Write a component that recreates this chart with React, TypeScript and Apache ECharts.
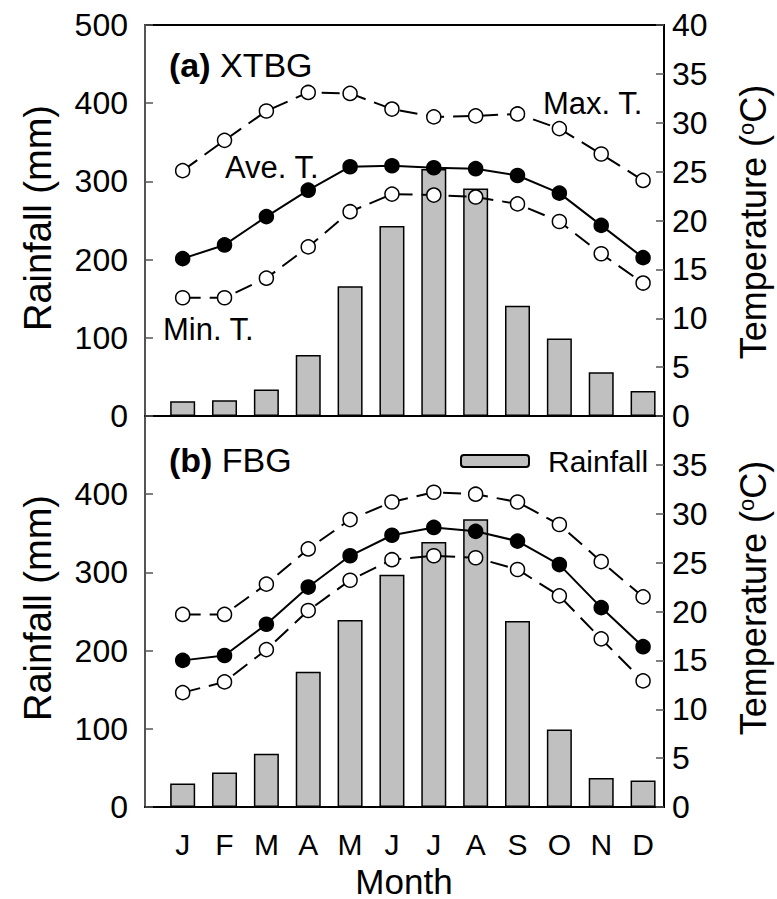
import React, { useEffect, useRef } from "react";
import * as echarts from "echarts";

const months = ["J", "F", "M", "A", "M", "J", "J", "A", "S", "O", "N", "D"];
const monthPos = [1, 2, 3, 4, 5, 6, 7, 8, 9, 10, 11, 12];

const xtbgRain = [19, 20, 34, 78, 166, 243, 316, 291, 141, 99, 56, 32];
const xtbgMax = [25.1, 28.2, 31.2, 33.1, 33.0, 31.4, 30.6, 30.7, 30.9, 29.4, 26.8, 24.1];
const xtbgAve = [16.1, 17.5, 20.4, 23.1, 25.5, 25.6, 25.4, 25.3, 24.6, 22.8, 19.5, 16.2];
const xtbgMin = [12.1, 12.1, 14.1, 17.3, 20.9, 22.7, 22.6, 22.4, 21.7, 19.9, 16.6, 13.6];

const fbgRain = [30, 44, 68, 173, 239, 297, 339, 368, 238, 99, 37, 34];
const fbgMax = [19.7, 19.7, 22.8, 26.4, 29.4, 31.2, 32.2, 32.0, 31.2, 28.9, 25.1, 21.5];
const fbgAve = [15.0, 15.5, 18.7, 22.5, 25.7, 27.8, 28.6, 28.2, 27.2, 24.8, 20.4, 16.4];
const fbgMin = [11.7, 12.8, 16.1, 20.1, 23.2, 25.3, 25.7, 25.5, 24.3, 21.6, 17.2, 12.9];

const FONT = "'Liberation Sans', Arial, Helvetica, sans-serif";

function pairs(vals: number[]) {
  return vals.map((v, i) => [monthPos[i], v]);
}

export default function App() {
  const ref = useRef<HTMLDivElement>(null);

  useEffect(() => {
    if (!ref.current) return;
    const chart = echarts.init(ref.current, undefined, { renderer: "svg" });

    const xAxisBase = (gridIndex: number, showLabels: boolean) => ({
      type: "value",
      gridIndex,
      min: 0.1,
      max: 12.5,
      axisLine: { show: true, onZero: false, lineStyle: { color: "#000", width: 2 } },
      axisTick: { show: false },
      splitLine: { show: false },
      axisLabel: showLabels
        ? {
            show: true,
            customValues: monthPos,
            formatter: (v: number) => months[Math.round(v) - 1] ?? "",
            fontSize: 30,
            fontFamily: FONT,
            color: "#000",
            margin: 22,
          }
        : { show: false },
    });

    const rainAxis = (gridIndex: number, showMax: boolean) => ({
      type: "value",
      gridIndex,
      position: "left",
      min: 0,
      max: 500,
      interval: 100,
      axisLine: { show: true, lineStyle: { color: "#555", width: 2 } },
      axisTick: { show: true, inside: true, length: 8, lineStyle: { color: "#555", width: 1.5 } },
      splitLine: { show: false },
      axisLabel: {
        fontSize: 32,
        fontFamily: FONT,
        color: "#000",
        margin: 17,
        showMaxLabel: showMax,
      },
    });

    const tempAxis = (gridIndex: number, showMax: boolean) => ({
      type: "value",
      gridIndex,
      position: "right",
      min: 0,
      max: 40,
      interval: 5,
      axisLine: { show: true, lineStyle: { color: "#000", width: 2 } },
      axisTick: { show: true, inside: true, length: 8, lineStyle: { color: "#555", width: 1.5 } },
      splitLine: { show: false },
      axisLabel: {
        fontSize: 32,
        fontFamily: FONT,
        color: "#000",
        margin: 8,
        showMaxLabel: showMax,
      },
    });

    const barSeries = (idx: number, data: number[]) => ({
      name: "Rainfall",
      type: "bar",
      xAxisIndex: idx,
      yAxisIndex: idx * 2,
      data: pairs(data),
      barWidth: 25,
      itemStyle: { color: "#c0c0c0", borderColor: "#000", borderWidth: 1.5 },
      z: 2,
    });

    const lineSeries = (idx: number, name: string, data: number[], filled: boolean) => ({
      name,
      type: "line",
      xAxisIndex: idx,
      yAxisIndex: idx * 2 + 1,
      data: pairs(data),
      symbol: "circle",
      symbolSize: 14,
      itemStyle: { color: filled ? "#000" : "#fff", borderColor: "#000", borderWidth: 1.5 },
      lineStyle: { color: "#000", width: 2, type: filled ? "solid" : [18, 9] },
      z: 3,
    });

    const txt = (text: string, x: number, y: number, fontSize: number, extra: any = {}) => ({
      type: "text",
      x,
      y,
      z: 10,
      ...extra,
      style: {
        text,
        fontSize,
        fontFamily: FONT,
        fill: "#000",
        align: "left",
        verticalAlign: "middle",
        ...(extra.style || {}),
      },
    });

    const supRich = (size: number) => ({
      s: { fontSize: Math.round(size * 0.62), fontFamily: FONT, verticalAlign: "top" },
    });

    const option: any = {
      animation: false,
      backgroundColor: "#fff",
      grid: [
        { left: 145, right: 113, top: 25, height: 391, show: true, borderColor: "#000", borderWidth: 2 },
        { left: 145, right: 113, top: 416, height: 391, show: true, borderColor: "#000", borderWidth: 2 },
      ],
      xAxis: [xAxisBase(0, false), xAxisBase(1, true)],
      yAxis: [rainAxis(0, true), tempAxis(0, true), rainAxis(1, false), tempAxis(1, false)],
      legend: {
        data: ["Rainfall"],
        left: 460,
        top: 446,
        padding: 0,
        itemWidth: 68,
        itemHeight: 12,
        textStyle: {
          fontSize: 30,
          fontFamily: FONT,
          color: "#000",
          lineHeight: 30,
          padding: [0, 0, 0, 14],
        },
      },
      series: [
        barSeries(0, xtbgRain),
        lineSeries(0, "Max. T.", xtbgMax, false),
        lineSeries(0, "Ave. T.", xtbgAve, true),
        lineSeries(0, "Min. T.", xtbgMin, false),
        barSeries(1, fbgRain),
        lineSeries(1, "Max. T.", fbgMax, false),
        lineSeries(1, "Ave. T.", fbgAve, true),
        lineSeries(1, "Min. T.", fbgMin, false),
      ],
      graphic: [
        txt("{b|(a)} XTBG", 169, 65, 34, {
          style: { rich: { b: { fontWeight: "bold", fontSize: 34, fontFamily: FONT } } },
        }),
        txt("{b|(b)} FBG", 169, 460, 34, {
          style: { rich: { b: { fontWeight: "bold", fontSize: 34, fontFamily: FONT } } },
        }),
        txt("Max. T.", 543, 103, 31),
        txt("Ave. T.", 225, 167, 31),
        txt("Min. T.", 163, 329, 31),
        txt("Month", 404, 881, 35, { style: { align: "center" } }),
        txt("Rainfall (mm)", 38, 218, 38, { rotation: Math.PI / 2, style: { align: "center" } }),
        txt("Rainfall (mm)", 38, 608, 38, { rotation: Math.PI / 2, style: { align: "center" } }),
        txt("Temperature ({s|o}C)", 753, 222, 36, {
          rotation: Math.PI / 2,
          style: { align: "center", rich: supRich(36) },
        }),
        txt("Temperature ({s|o}C)", 753, 598, 36, {
          rotation: Math.PI / 2,
          style: { align: "center", rich: supRich(36) },
        }),
      ],
    };

    chart.setOption(option);
    return () => chart.dispose();
  }, []);

  return (
    <div
      ref={ref}
      style={{ position: "fixed", left: 0, top: 0, width: 777, height: 899, background: "#fff" }}
    />
  );
}
